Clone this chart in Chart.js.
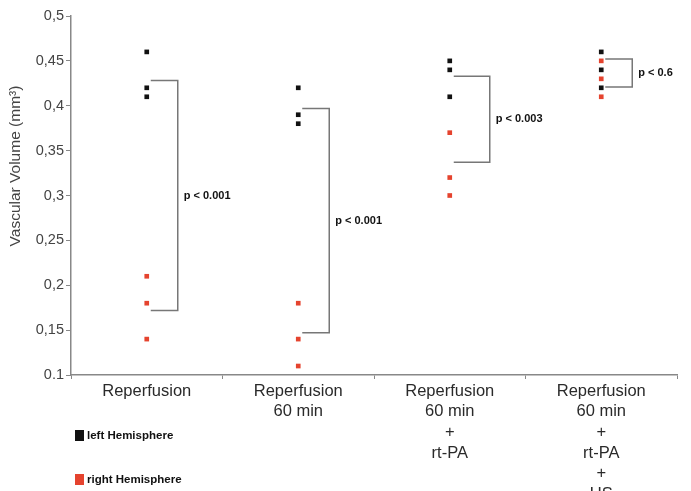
<!DOCTYPE html>
<html>
<head>
<meta charset="utf-8">
<script src="https://cdn.jsdelivr.net/npm/chart.js@4/dist/chart.umd.min.js"></script>
<style>
  html, body { margin: 0; padding: 0; background: #fff; }
  #wrap { width: 691px; height: 491px; position: relative; }
</style>
</head>
<body>
<div id="wrap"><canvas id="chart"></canvas></div>
<script>
// Categories (multi-line labels)
const groups = [
    ['Reperfusion'],
    ['Reperfusion', '60 min'],
    ['Reperfusion', '60 min', '+', 'rt-PA'],
    ['Reperfusion', '60 min', '+', 'rt-PA', '+', 'US']
];
const groupKeys = groups.map(g => g.join(' '));

// Vascular volume per group, one value per animal
const leftValues = [
    [0.46, 0.42, 0.41],
    [0.42, 0.39, 0.38],
    [0.45, 0.44, 0.41],
    [0.46, 0.44, 0.42]
];
const rightValues = [
    [0.21, 0.18, 0.14],
    [0.18, 0.14, 0.11],
    [0.37, 0.32, 0.30],
    [0.45, 0.43, 0.41]
];

// Significance brackets: [group, top, bottom, label]
const brackets = [
    [0, 0.428, 0.172, 'p < 0.001'],
    [1, 0.397, 0.147, 'p < 0.001'],
    [2, 0.433, 0.337, 'p < 0.003'],
    [3, 0.452, 0.421, 'p < 0.6']
];

const yTickLabels = ['0.1', '0,15', '0,2', '0,25', '0,3', '0,35', '0,4', '0,45', '0,5'];
const seriesNames = ['left Hemisphere', 'right Hemisphere'];
const seriesColors = ['#111111', '#e5432e'];

function toPoints(values) {
    const pts = [];
    values.forEach((vals, i) => vals.forEach(v => pts.push({ x: groupKeys[i], y: v })));
    return pts;
}

// brackets, p-values, axis title and legend
const annotations = {
    id: 'annotations',
    afterDatasetsDraw(chart) {
        const ctx = chart.ctx;
        const xs = chart.scales.x;
        const ys = chart.scales.y;
        ctx.save();
        ctx.strokeStyle = '#777';
        ctx.lineWidth = 1.5;
        ctx.fillStyle = '#111';
        ctx.font = 'bold 11px "Liberation Sans", Arial, sans-serif';
        ctx.textBaseline = 'middle';
        brackets.forEach(([g, top, bottom, label]) => {
            const x0 = xs.getPixelForValue(g) + 4;
            const x1 = x0 + (g === 2 ? 36 : 27);
            const y0 = ys.getPixelForValue(top);
            const y1 = ys.getPixelForValue(bottom);
            ctx.beginPath();
            ctx.moveTo(x0, y0);
            ctx.lineTo(x1, y0);
            ctx.lineTo(x1, y1);
            ctx.lineTo(x0, y1);
            ctx.stroke();
            ctx.fillText(label, x1 + 6, (y0 + y1) / 2);
        });

        // y axis title
        ctx.save();
        ctx.translate(16, 166);
        ctx.rotate(-Math.PI / 2);
        ctx.textAlign = 'center';
        ctx.fillStyle = '#444';
        ctx.font = '15.5px "Liberation Sans", Arial, sans-serif';
        ctx.fillText('Vascular Volume (mm³)', 0, 0);
        ctx.restore();

        // legend
        ctx.textAlign = 'left';
        ctx.font = 'bold 11.5px "Liberation Sans", Arial, sans-serif';
        seriesNames.forEach((name, i) => {
            const y = 435 + i * 44;
            ctx.fillStyle = seriesColors[i];
            ctx.fillRect(75, y - 5, 9, 11);
            ctx.fillStyle = '#111';
            ctx.fillText(name, 87, y + 1);
        });
        ctx.restore();
    }
};

new Chart(document.getElementById('chart'), {
    type: 'scatter',
    data: {
        labels: groupKeys,
        datasets: [
            {
                label: seriesNames[0],
                data: toPoints(leftValues),
                pointStyle: 'rect',
                pointRadius: 3.3,
                backgroundColor: seriesColors[0],
                borderWidth: 0
            },
            {
                label: seriesNames[1],
                data: toPoints(rightValues),
                pointStyle: 'rect',
                pointRadius: 3.3,
                backgroundColor: seriesColors[1],
                borderWidth: 0
            }
        ]
    },
    options: {
        responsive: true,
        maintainAspectRatio: false,
        animation: false,
        layout: { padding: { top: 16, right: 14, left: 0, bottom: 0 } },
        plugins: {
            legend: { display: false },
            tooltip: { enabled: false }
        },
        scales: {
            x: {
                type: 'category',
                offset: true,
                grid: {
                    offset: true,
                    drawOnChartArea: false,
                    tickLength: 4,
                    color: '#888'
                },
                border: { color: '#888', width: 1.5 },
                ticks: {
                    color: '#2a2a2a',
                    padding: 2,
                    font: { family: '"Liberation Sans", Arial, sans-serif', size: 16.5, lineHeight: 1.25 },
                    maxRotation: 0,
                    autoSkip: false,
                    callback: (v, i) => groups[i]
                },
                afterFit(scale) { scale.height = 116; }
            },
            y: {
                min: 0.1,
                max: 0.5,
                grid: {
                    drawOnChartArea: false,
                    tickLength: 5,
                    color: '#888'
                },
                border: { color: '#888', width: 1.5 },
                ticks: {
                    stepSize: 0.05,
                    color: '#444',
                    padding: 2,
                    font: { family: '"Liberation Sans", Arial, sans-serif', size: 14.5 },
                    callback: (v, i) => yTickLabels[i]
                },
                afterFit(scale) { scale.width = 71; }
            }
        }
    },
    plugins: [annotations]
});
</script>
</body>
</html>
